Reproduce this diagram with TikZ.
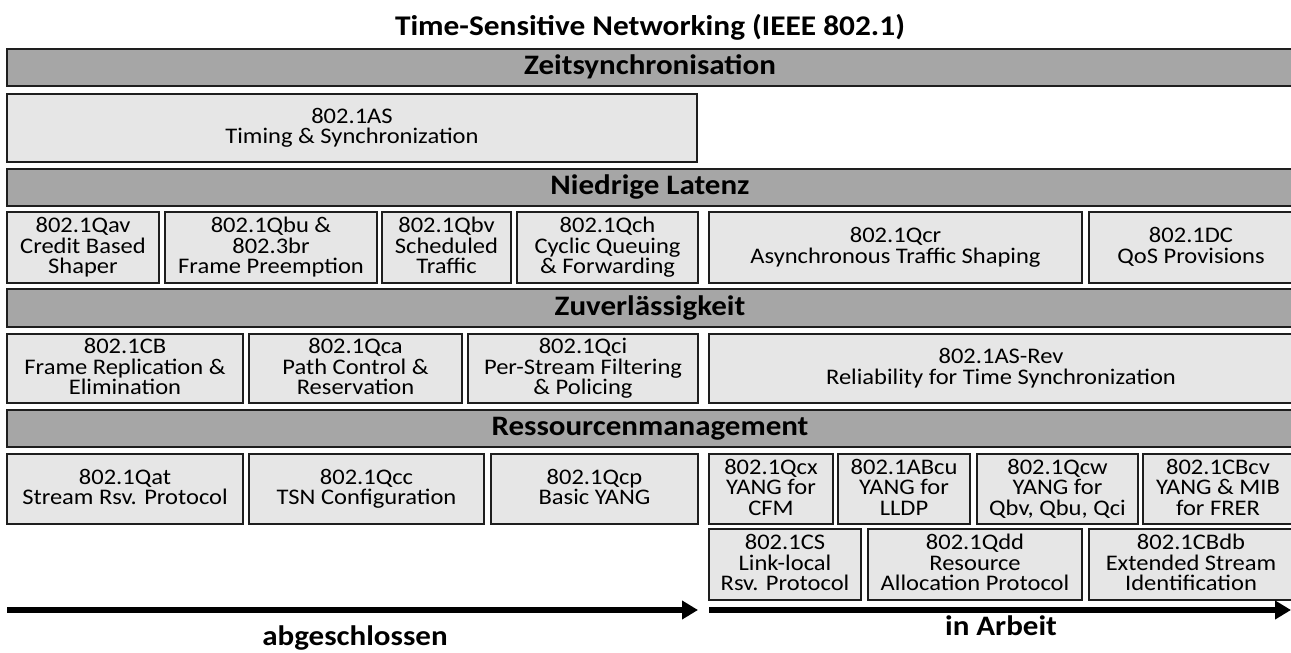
\documentclass[tikz,border=0pt]{standalone}
\usepackage{fontspec}
\setmainfont{Carlito}[FakeStretch=1.1]
\usetikzlibrary{arrows.meta}
\definecolor{barfill}{HTML}{A6A6A6}
\definecolor{boxfill}{HTML}{E6E6E6}
\definecolor{edge}{HTML}{1E1E1E}
% constant line pitch inside the boxes, whatever the glyphs
\lineskiplimit=-100pt
\lineskip=0pt
% invisible strut: fixes first-line height and last-line depth
\newcommand{\boxstrut}{\rule[-0.26em]{0pt}{1.02em}}
\tikzset{
  stdbox/.style={draw=edge, line width=2pt, fill=boxfill, align=center,
    inner sep=0pt, font=\fontsize{22.3}{20.5}\selectfont},
  groupbar/.style={draw=edge, line width=2pt, fill=barfill, align=center,
    inner sep=0pt, font=\bfseries\fontsize{28.2}{30}\selectfont},
  timeline/.style={line width=6.5pt, -{Triangle[length=16pt,width=18pt]}},
  tllabel/.style={anchor=base, font=\bfseries\fontsize{28.2}{30}\selectfont}
}
% \areabox[style]{name}{x1}{y1}{x2}{y2}{text}
\newcommand{\areabox}[7][stdbox]{%
  \node[#1, minimum width={#5-#3}, minimum height={#6-#4}]
    (#2) at ({(#3+#5)/2},{(#4+#6)/2}) {\boxstrut#7\boxstrut};}
\begin{document}
\begin{tikzpicture}[x=1pt,y=-1pt]
\useasboundingbox (0,0) rectangle (1291,653);

\node[anchor=base, font=\bfseries\fontsize{28.5}{30}\selectfont] (title) at (650,35)
  {Time-Sensitive Networking (IEEE 802.1)};

% Zeitsynchronisation
\areabox[groupbar]{zeit}{7}{49}{1293}{86}{Zeitsynchronisation}
\areabox{as}{7}{94}{697}{162}{802.1AS\\Timing \& Synchronization}

% Niedrige Latenz
\areabox[groupbar]{lat}{7}{169}{1293}{206}{Niedrige Latenz}
\areabox{qav}{7}{212}{159}{283}{802.1Qav\\Credit Based\\Shaper}
\areabox{qbu}{165}{212}{377}{283}{802.1Qbu \&\\802.3br\\Frame Preemption}
\areabox{qbv}{382}{212}{511}{283}{802.1Qbv\\Scheduled\\Traffic}
\areabox{qch}{517}{212}{698}{283}{802.1Qch\\Cyclic Queuing\\\& Forwarding}
\areabox{qcr}{709}{212}{1082}{283}{802.1Qcr\\Asynchronous Traffic Shaping}
\areabox{dc}{1089}{212}{1293}{283}{802.1DC\\QoS Provisions}

% Zuverlaessigkeit
\areabox[groupbar]{zuv}{7}{289}{1293}{327}{Zuverlässigkeit}
\areabox{cb}{7}{334}{243}{403}{802.1CB\\Frame Replication \&\\Elimination}
\areabox{qca}{249}{334}{462}{403}{802.1Qca\\Path Control \&\\Reservation}
\areabox{qci}{468}{334}{698}{403}{802.1Qci\\Per-Stream Filtering\\\& Policing}
\areabox{asrev}{709}{334}{1293}{403}{802.1AS-Rev\\Reliability for Time Synchronization}

% Ressourcenmanagement
\areabox[groupbar]{res}{7}{410}{1293}{447}{Ressourcenmanagement}
\areabox{qat}{7}{454}{243}{524}{802.1Qat\\Stream Rsv. Protocol}
\areabox{qcc}{249}{454}{484}{524}{802.1Qcc\\TSN Configuration}
\areabox{qcp}{491}{454}{698}{524}{802.1Qcp\\Basic YANG}
\areabox{qcx}{709}{454}{833}{524}{802.1Qcx\\YANG for\\CFM}
\areabox{abcu}{838}{454}{970}{524}{802.1ABcu\\YANG for\\LLDP}
\areabox{qcw}{977}{454}{1138}{524}{802.1Qcw\\YANG for\\Qbv, Qbu, Qci}
\areabox{cbcv}{1143}{454}{1293}{524}{802.1CBcv\\YANG \& MIB\\for FRER}
\areabox{cs}{709}{529}{861}{600}{802.1CS\\Link-local\\Rsv. Protocol}
\areabox{qdd}{868}{529}{1082}{600}{802.1Qdd\\Resource\\Allocation Protocol}
\areabox{cbdb}{1089}{529}{1293}{600}{802.1CBdb\\Extended Stream\\Identification}

% Timelines
\coordinate (doneA) at (7,610);
\coordinate (doneB) at (698,610);
\coordinate (wipA) at (709,610);
\coordinate (wipB) at (1291,610);
\draw[timeline] (doneA) -- (doneB);
\draw[timeline] (wipA) -- (wipB);
\node[tllabel] (done) at (355,645) {abgeschlossen};
\node[tllabel] (wip) at (1001,635) {in Arbeit};
\end{tikzpicture}
\end{document}
